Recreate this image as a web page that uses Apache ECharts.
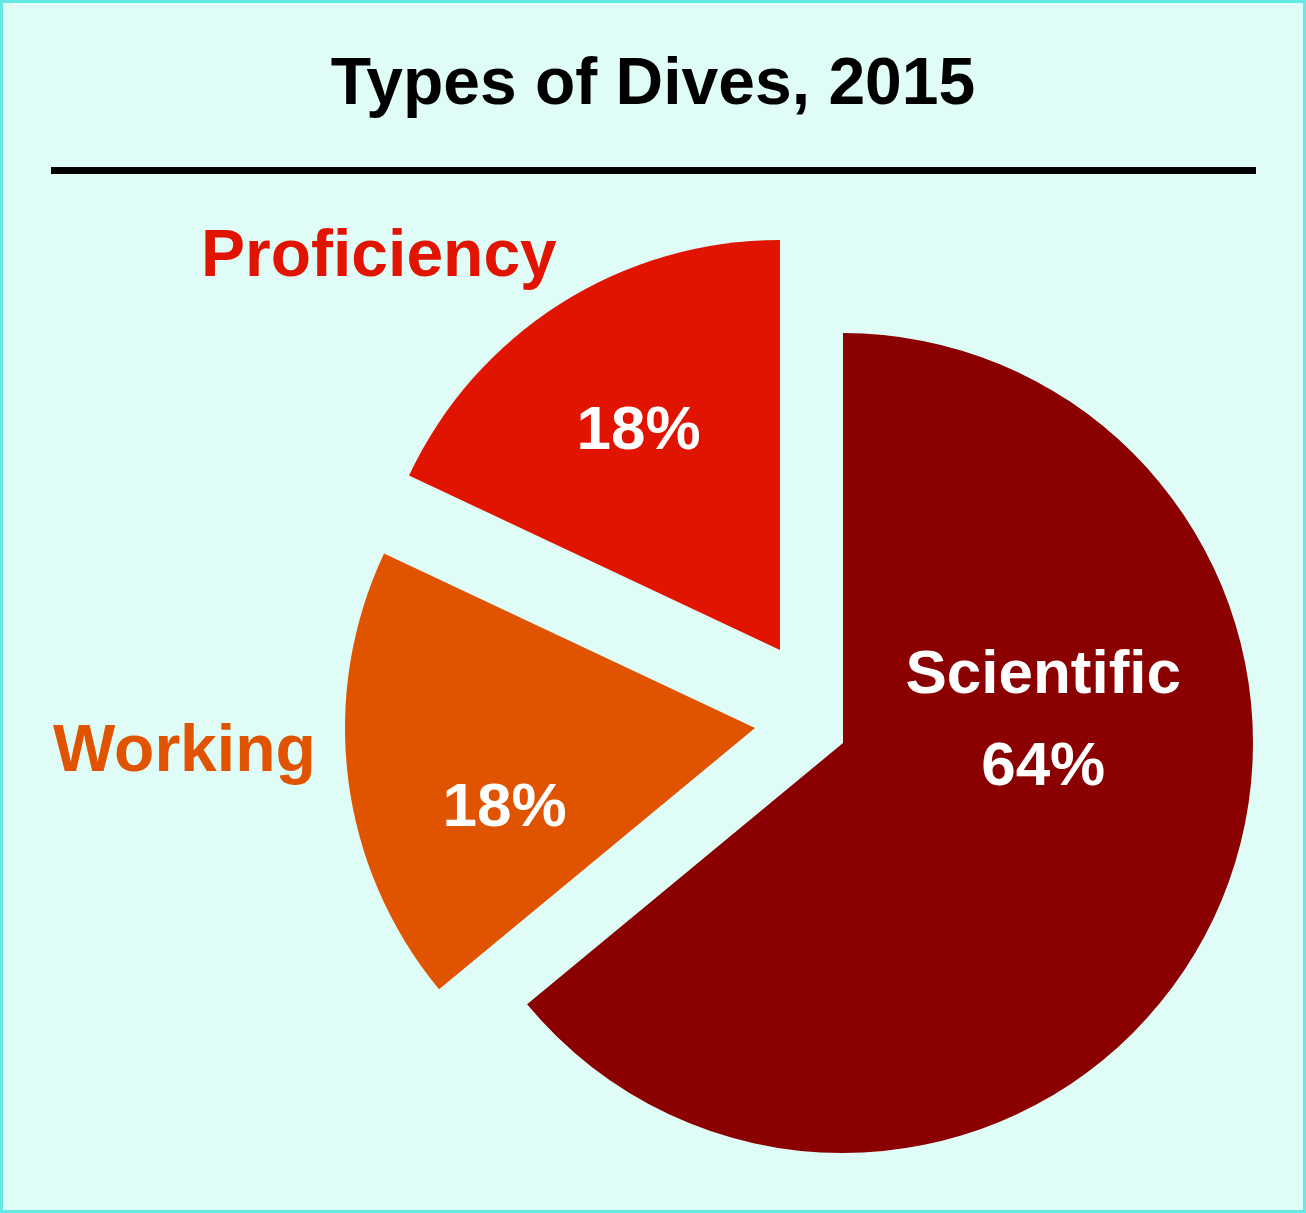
<!DOCTYPE html>
<html><head><meta charset="utf-8">
<script src="https://cdn.jsdelivr.net/npm/echarts@6/dist/echarts.min.js"></script>
<style>html,body{margin:0;padding:0;background:#dffcf6}#c{width:1306px;height:1213px;box-sizing:border-box;border:3px solid #66e8e4}</style>
</head><body><div id="c"></div>
<script>
const categories = ['Scientific', 'Working', 'Proficiency'];
const values = [64, 18, 18];
const colors = ['#8b0000', '#e05300', '#e01400'];
const centers = [[840, 740], [752, 725], [777, 647]];
const labelOffsets = [[12, -110], [-44, 55], [-30, -42]];
const font = '"Liberation Sans Narrow", "Liberation Sans", sans-serif';
const chart = echarts.init(document.getElementById('c'));
const series = categories.map((name, i) => ({
  type: 'pie', radius: 410, center: centers[i], startAngle: 90, clockwise: true,
  silent: true, animation: false,
  labelLine: { show: false },
  data: categories.map((n, j) => ({
    name: n, value: values[j],
    itemStyle: { color: j === i ? colors[j] : 'transparent' },
    label: j === i ? {
      show: true, position: 'inside', offset: labelOffsets[i], color: '#fff',
      fontFamily: font, fontWeight: 'bold', fontSize: 62, lineHeight: 92,
      formatter: j === 0 ? '{b}\n{c}%' : '{c}%'
    } : { show: false }
  }))
}));
chart.setOption({
  title: { text: 'Types of Dives, 2015', left: 'center', top: 45,
    textStyle: { fontFamily: font, fontWeight: 'bold', fontSize: 66, color: '#000' } },
  graphic: [
    { type: 'rect', shape: { x: 48, y: 164, width: 1205, height: 7 }, style: { fill: '#000' } },
    { type: 'text', left: 198, top: 222, style: { text: categories[2], fontFamily: font, fontWeight: 'bold', fontSize: 66, fill: colors[2] } },
    { type: 'text', left: 50, top: 717, style: { text: categories[1], fontFamily: font, fontWeight: 'bold', fontSize: 66, fill: colors[1] } }
  ],
  series
});
</script></body></html>
